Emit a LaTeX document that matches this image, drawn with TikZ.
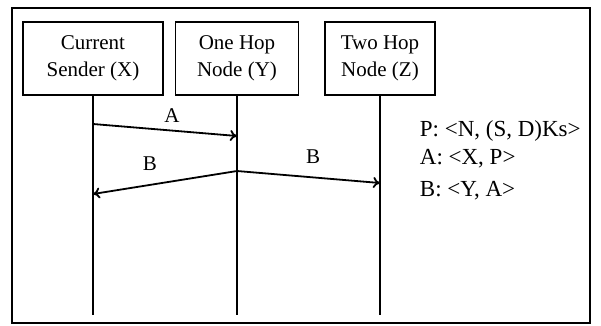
\documentclass[tikz,border=0pt]{standalone}
\usepackage{fontspec}
\setmainfont{Liberation Serif}
\usetikzlibrary{arrows.meta}
\begin{document}
\begin{tikzpicture}[x=1pt, y=-1pt, line width=1.8pt,
  actor/.style={draw, minimum height=73, align=center, inner sep=2pt,
    font=\fontsize{21}{27}\selectfont},
  msg/.style={-{To[length=7pt,width=11pt]}},
  lbl/.style={font=\fontsize{21}{25}\selectfont, inner sep=0pt},
  defn/.style={font=\fontsize{23}{27}\selectfont, inner sep=0pt, anchor=west}]
\useasboundingbox (0,0) rectangle (601,325);
\draw[line width=1.2pt] (12,8) rectangle (590,323);
% participants
\node[actor, minimum width=140] (sx) at (93,58.5) {Current\\Sender (X)};
\node[actor, minimum width=123] (hy) at (237,58.5) {One Hop\\Node (Y)};
\node[actor, minimum width=110] (hz) at (380,58.5) {Two Hop\\Node (Z)};
% lifelines
\coordinate (sx-end) at (93,315);
\coordinate (hy-end) at (237,315);
\coordinate (hz-end) at (380,315);
\draw (sx) -- (sx-end);
\draw (hy) -- (hy-end);
\draw (hz) -- (hz-end);
% messages
\coordinate (a-out) at (93,124);
\coordinate (a-in) at (237,136);
\coordinate (b-src) at (237,171);
\coordinate (b-x) at (93,194);
\coordinate (b-z) at (380,183);
\draw[msg] (a-out) -- (a-in);
\draw[msg] (b-src) -- (b-x);
\draw[msg] (b-src) -- (b-z);
\node[lbl] (la) at (172,116) {A};
\node[lbl] (lbx) at (150,164) {B};
\node[lbl] (lbz) at (313,157) {B};
% message contents
\node[defn] (defp) at (419,131) {P: <N, (S, D)Ks>};
\node[defn] (defa) at (419,159) {A: <X, P>};
\node[defn] (defb) at (419,191) {B: <Y, A>};
\end{tikzpicture}
\end{document}
